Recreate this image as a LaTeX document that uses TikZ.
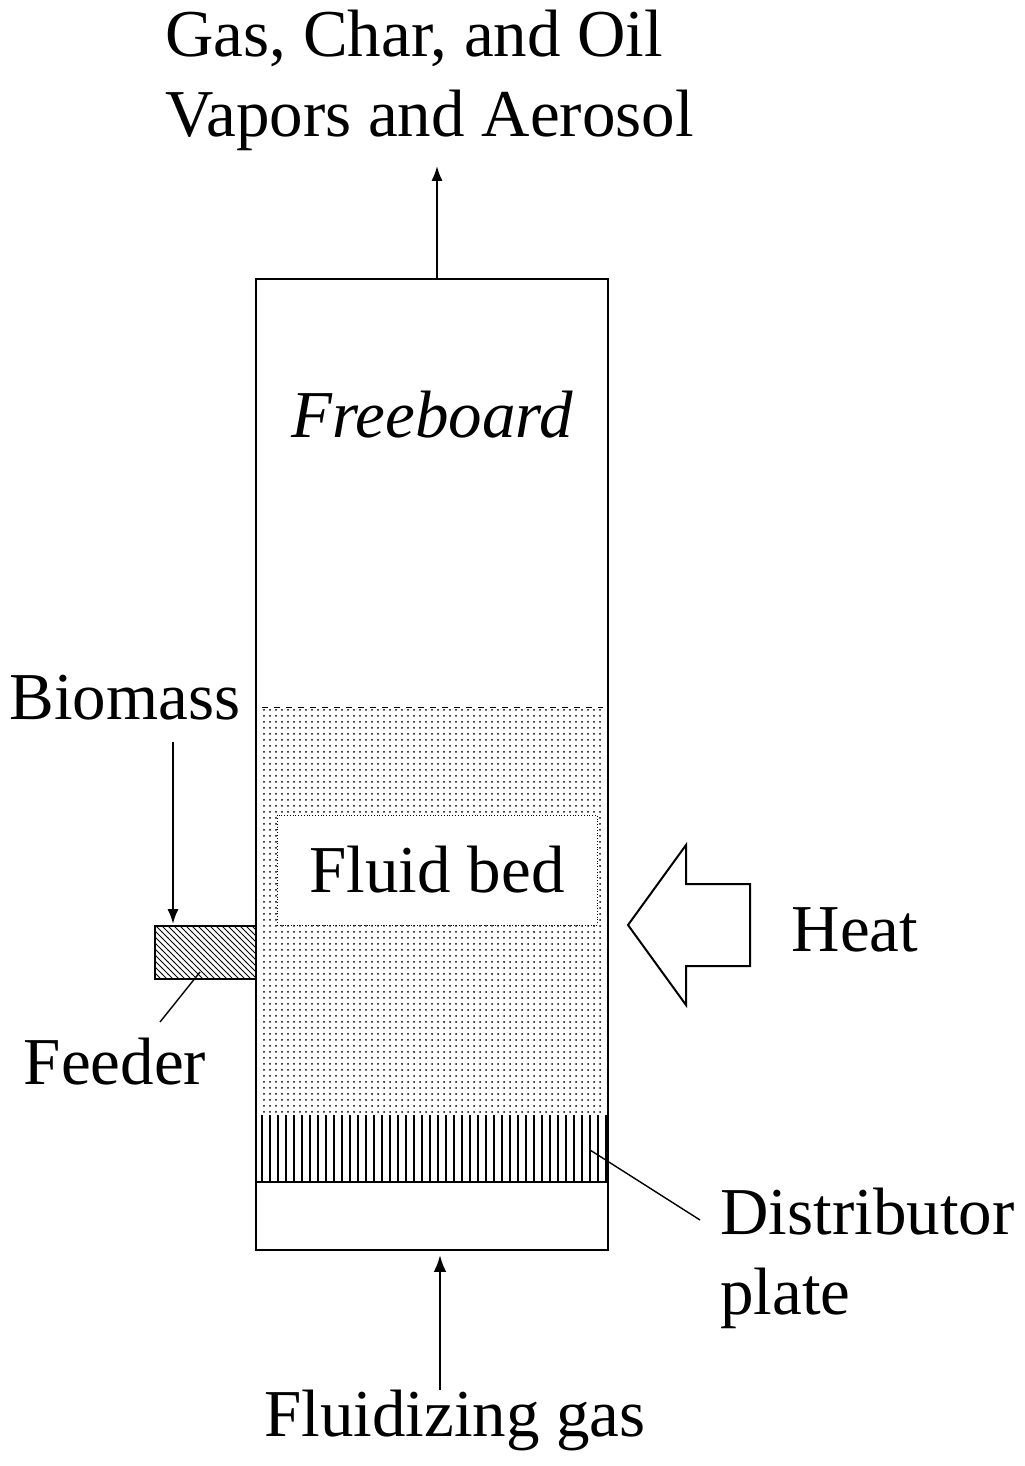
\documentclass[tikz,border=0pt]{standalone}
\usepackage{fontspec}
\setmainfont{Liberation Serif}
\usetikzlibrary{patterns, arrows.meta, positioning}

\begin{document}
\begin{tikzpicture}[x=0.5pt,y=-0.5pt,>=Latex,
	lbl/.style={font=\fontsize{33.5}{40}\selectfont, inner sep=0pt},
	wall/.style={draw, line width=1.2pt},
	lead/.style={line width=0.7pt}]
	\useasboundingbox (0,0) rectangle (1024,1466);
	% bed and distributor
	\fill[pattern=dots, pattern color=black] (262,707) rectangle (603,1115);
	\node[fill=white, draw, densely dotted, minimum width=160pt, minimum height=55pt, inner sep=0pt] (bedbox) at (437,870) {};
	\node[lbl] (bed) at (437,870) {Fluid bed};
	\draw[dashed] (262,707) -- (603,707);
	\foreach \x in {262,270,...,606} \draw[line width=0.8pt] (\x,1115) -- (\x,1182);
	\draw[wall] (256,279) rectangle (608,1250);
	\draw[wall] (256,1182) -- (608,1182);
	\coordinate (top) at (437,279);
	\coordinate (bot) at (440,1255);
	% feeder
	\node[draw, line width=1pt, pattern=north west lines, minimum width=50.5pt, minimum height=26.5pt, inner sep=0pt] (feeder) at (205.5,952.5) {};
	% labels
	\node[lbl, align=left, anchor=west] (out) at (165,80) {Gas, Char, and Oil\\Vapors and Aerosol};
	\node[lbl, font=\fontsize{33.5}{40}\selectfont\itshape] (free) at (432,415) {Freeboard};
	\node[lbl] (bio) at (125,698) {Biomass};
	\node[lbl] (feed) at (115,1062) {Feeder};
	\node[lbl] (heat) at (855,930) {Heat};
	\node[lbl, align=left, anchor=west] (dist) at (720,1258) {Distributor\\plate};
	\node[lbl] (gas) at (455,1420) {Fluidizing gas};
	\coordinate (b1) at (173,742);
	\coordinate (b2) at (173,924);
	% connectors
	\draw[->, line width=1pt] (top) -- (437,166);
	\draw[->, line width=1pt] (b1) -- (b2);
	\draw[lead] (160,1022) -- (200,972);
	\draw[lead] (590,1150) -- (700,1220);
	\draw[->, line width=1.2pt] (440,1390) -- (bot);
	% heat arrow
	\draw[line width=1pt] (750,884) -- (686,884) -- (686,845) -- (628,925) -- (686,1005) -- (686,966) -- (750,966) -- cycle;
\end{tikzpicture}
\end{document}
